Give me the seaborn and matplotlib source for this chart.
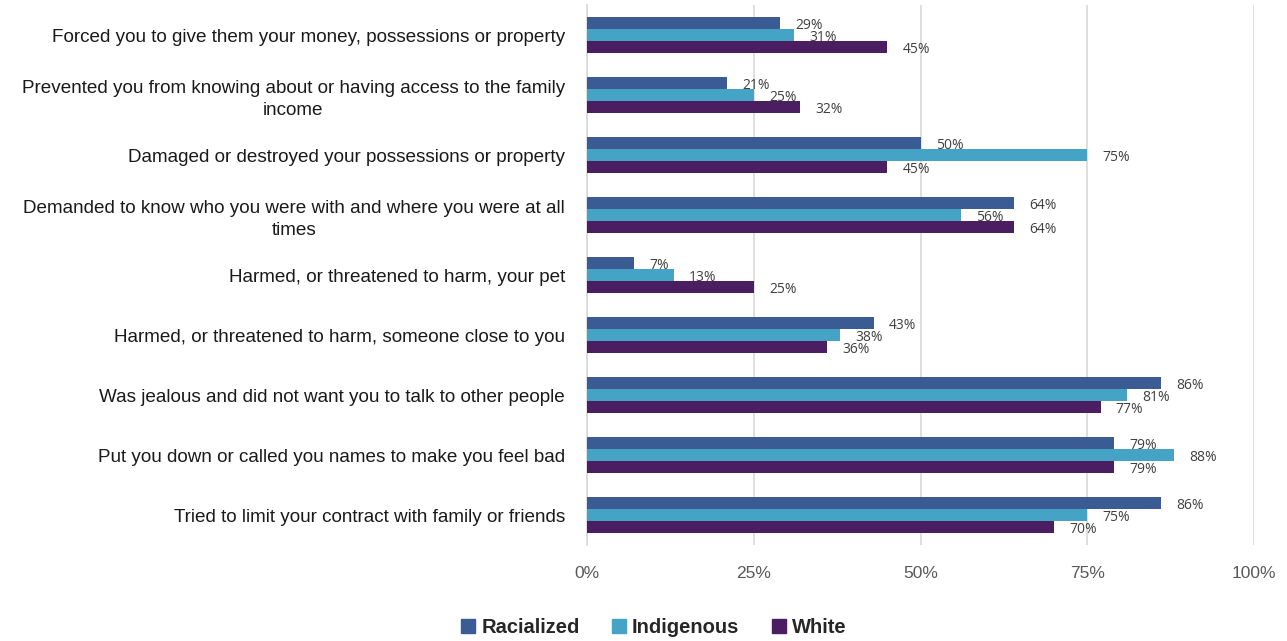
import matplotlib
matplotlib.use("Agg")
import matplotlib.pyplot as plt
import seaborn as sns
import pandas as pd

items = [
    "Forced you to give them your money, possessions or property",
    "Prevented you from knowing about or having access to the family\nincome",
    "Damaged or destroyed your possessions or property",
    "Demanded to know who you were with and where you were at all\ntimes",
    "Harmed, or threatened to harm, your pet",
    "Harmed, or threatened to harm, someone close to you",
    "Was jealous and did not want you to talk to other people",
    "Put you down or called you names to make you feel bad",
    "Tried to limit your contract with family or friends",
]
groups = ["Racialized", "Indigenous", "White"]
racialized = [29, 21, 50, 64, 7, 43, 86, 79, 86]
indigenous = [31, 25, 75, 56, 13, 38, 81, 88, 75]
white = [45, 32, 45, 64, 25, 36, 77, 79, 70]
ticks = [0, 25, 50, 75, 100]
tick_labels = ["0%", "25%", "50%", "75%", "100%"]
colors = ["#3B5B95", "#45A3C5", "#4A1E60"]

rows = []
for vals, g in zip([racialized, indigenous, white], groups):
    for it, v in zip(items, vals):
        rows.append({"item": it, "group": g, "value": v})
df = pd.DataFrame(rows)

sns.set_theme(style="white")
plt.rcParams["font.family"] = ["Liberation Sans", "DejaVu Sans"]

fig = plt.figure(figsize=(12.87, 6.41), dpi=100)
ax = fig.add_axes([587 / 1287, 1 - 545 / 641, (1254 - 587) / 1287, 540 / 641])

sns.barplot(data=df, y="item", x="value", hue="group", orient="h",
            order=items, hue_order=groups, palette=colors, width=0.6,
            saturation=1, ax=ax, legend=False, zorder=3, linewidth=0)

for cont in ax.containers:
    for bar in cont:
        w = bar.get_width()
        y = bar.get_y() + bar.get_height() / 2
        ax.annotate(f"{w:.0f}%", (w, y), xytext=(11, -1.5), textcoords="offset points",
                    va="center", ha="left", fontsize=10, color="#404040",
                    family=["Open Sans", "DejaVu Sans"], zorder=4)

ax.set_xlim(0, 100)
ax.set_ylim(len(items) - 0.5, -0.5)
ax.set_xticks(ticks)
ax.set_xticklabels(tick_labels, fontsize=12.5, color="#595959")
ax.tick_params(axis="x", length=0, pad=15)
ax.set_yticks(range(len(items)))
ax.set_yticklabels(items, fontsize=13.6, color="#1a1a1a",
                   multialignment="center", linespacing=1.35)
ax.tick_params(axis="y", length=0, pad=16)
ax.set_xlabel("")
ax.set_ylabel("")
ax.grid(axis="x", color="#D9D9D9", linewidth=1.2, zorder=0)
for s in ["top", "right", "bottom"]:
    ax.spines[s].set_visible(False)
ax.spines["left"].set_color("#D9D9D9")
ax.spines["left"].set_linewidth(1.2)
ax.spines["left"].set_zorder(1)

handles = [plt.Rectangle((0, 0), 1, 1, color=c) for c in colors]
fig.legend(handles, groups, loc="lower center", bbox_to_anchor=(0.508, -0.022), ncol=3,
           frameon=False, handlelength=0.7, handleheight=0.7, handletextpad=0.3,
           columnspacing=1.6, prop={"weight": "bold", "size": 14.5})

fig.savefig("out.png", dpi=100)
